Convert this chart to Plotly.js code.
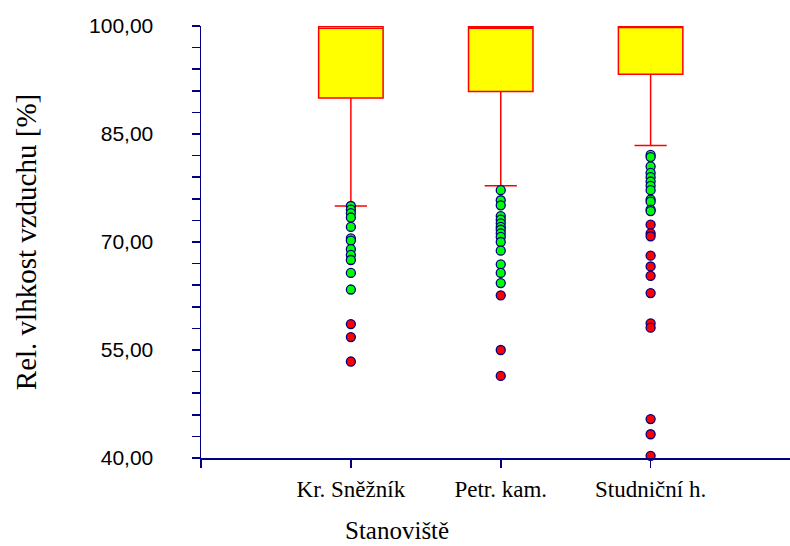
<!DOCTYPE html>
<html>
<head>
<meta charset="utf-8">
<script src="https://cdn.plot.ly/plotly-3.0.1.min.js"></script>
<style>html,body{margin:0;padding:0;background:#fff;}#chart{width:790px;height:546px;}</style>
</head>
<body>
<div id="chart"></div>
<script>
// Categories
const categories = ["Kr. Sněžník", "Petr. kam.", "Studniční h."];
// Box statistics per category
const q1 = [90.0, 90.9, 93.3];
const median = [99.7, 99.7, 99.8];
const q3 = [99.95, 99.9, 100.0];
const lowerFence = [75.0, 77.8, 83.4];
const upperFence = [100.0, 100.0, 100.0];
// Outliers (green) and extremes (red) per category
const greenSnez = [75.0, 74.5, 74.0, 73.4, 72.1, 70.5, 70.2, 69.0, 68.2, 67.5, 65.7, 63.4];
const redSnez = [58.6, 56.8, 53.4];
const greenPetr = [77.2, 75.8, 75.1, 73.6, 73.1, 72.6, 72.1, 71.7, 71.2, 70.7, 70.0, 68.8, 66.9, 65.7, 64.3];
const redPetr = [62.6, 55.0, 51.4];
const greenStud = [82.1, 81.8, 80.5, 79.6, 79.0, 78.4, 77.8, 77.2, 75.9, 75.6, 74.5, 74.3];
const redStud = [72.4, 71.2, 70.8, 68.1, 66.6, 65.3, 62.9, 58.7, 58.1, 45.4, 43.3, 40.3];
// Axis tick labels
const yTickVals = [40, 55, 70, 85, 100];
const yTickText = ["40,00", "55,00", "70,00", "85,00", "100,00"];

const greens = [greenSnez, greenPetr, greenStud];
const reds = [redSnez, redPetr, redStud];
const catIdx = categories.map((c, i) => i);

const navy = "#000080";
const traces = [];
traces.push({
  type: "box",
  x: catIdx,
  q1: q1, median: median, q3: q3,
  lowerfence: lowerFence, upperfence: upperFence,
  boxpoints: false,
  width: 0.43,
  whiskerwidth: 0.5,
  fillcolor: "#FFFF00",
  line: {color: "#FF0000", width: 1.5},
  hoverinfo: "skip",
  showlegend: false
});
const gx = [], gy = [], rx = [], ry = [];
greens.forEach((arr, i) => arr.forEach(v => { gx.push(i); gy.push(v); }));
reds.forEach((arr, i) => arr.forEach(v => { rx.push(i); ry.push(v); }));
traces.push({
  type: "scatter", mode: "markers", x: gx, y: gy, cliponaxis: false,
  marker: {size: 9, color: "#00FF00", line: {color: navy, width: 1.3}},
  showlegend: false, hoverinfo: "skip"
});
traces.push({
  type: "scatter", mode: "markers", x: rx, y: ry, cliponaxis: false,
  marker: {size: 9, color: "#FF0000", line: {color: navy, width: 1.3}},
  showlegend: false, hoverinfo: "skip"
});

const layout = {
  width: 790, height: 546,
  margin: {l: 201, r: 0, t: 26, b: 88},
  paper_bgcolor: "#fff", plot_bgcolor: "#fff",
  showlegend: false,
  xaxis: {
    range: [-1, 2.93],
    tickvals: [-1].concat(catIdx),
    ticktext: [""].concat(categories),
    ticks: "outside", ticklen: 8, tickcolor: navy, tickwidth: 1.5,
    showline: true, linecolor: navy, linewidth: 1.5,
    showgrid: false, zeroline: false,
    ticklabelstandoff: 2,
    tickfont: {family: "Liberation Serif, Times New Roman, serif", size: 23, color: "#000"}
  },
  yaxis: {
    range: [40, 100],
    tickvals: yTickVals, ticktext: yTickText,
    ticks: "outside", ticklen: 8, tickcolor: navy, tickwidth: 1.5,
    minor: {dtick: 3, tick0: 40, ticks: "outside", ticklen: 8, tickcolor: navy, tickwidth: 1.5, showgrid: false},
    showline: true, linecolor: navy, linewidth: 1.5,
    showgrid: false, zeroline: false,
    ticklabelstandoff: 34,
    tickfont: {family: "Liberation Sans, Arial, sans-serif", size: 21, color: "#000"},
    title: {text: "Rel. vlhkost vzduchu [%]", standoff: 44,
      font: {family: "Liberation Serif, Times New Roman, serif", size: 29, color: "#000"}}
  },
  annotations: [{
    text: "Stanoviště", xref: "paper", yref: "paper",
    x: 0.333, y: -0.2035, xanchor: "center", yanchor: "bottom", showarrow: false,
    font: {family: "Liberation Serif, Times New Roman, serif", size: 25, color: "#000"}
  }]
};

Plotly.newPlot("chart", traces, layout, {displayModeBar: false, staticPlot: true});
</script>
</body>
</html>
